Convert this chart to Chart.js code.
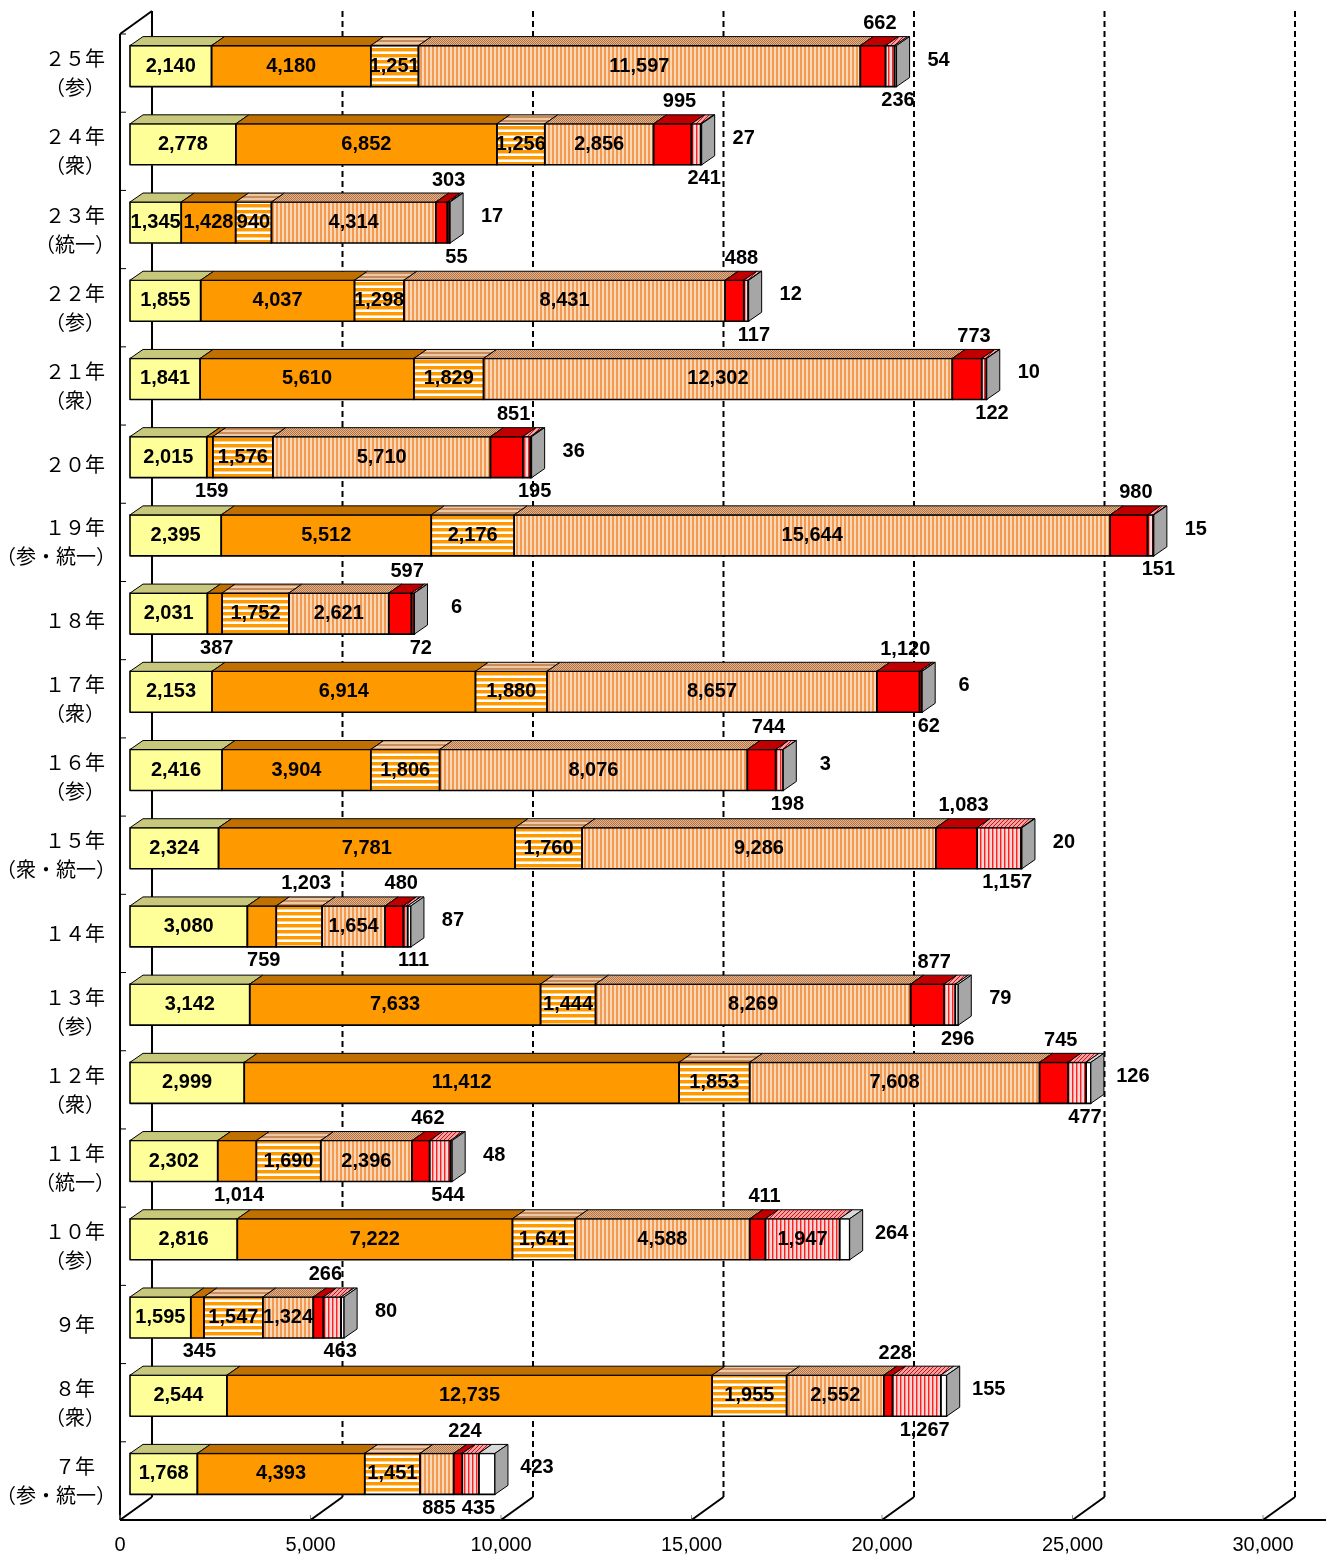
<!DOCTYPE html>
<html>
<head>
<meta charset="utf-8">
<script src="https://cdn.jsdelivr.net/npm/chart.js@4.4.1/dist/chart.umd.min.js"></script>
<style>
  body { margin: 0; background: #fff; }
  #wrap { width: 1335px; height: 1558px; }
</style>
</head>
<body>
<div id="wrap"><canvas id="chart"></canvas></div>
<script>
// rows, top to bottom
const categories = [
  ['２５年', '（参）'], ['２４年', '（衆）'], ['２３年', '（統一）'], ['２２年', '（参）'],
  ['２１年', '（衆）'], '２０年', ['１９年', '（参・統一）'], '１８年',
  ['１７年', '（衆）'], ['１６年', '（参）'], ['１５年', '（衆・統一）'], '１４年',
  ['１３年', '（参）'], ['１２年', '（衆）'], ['１１年', '（統一）'], ['１０年', '（参）'],
  '９年', ['８年', '（衆）'], ['７年', '（参・統一）']
];

const yellowValues = [2140, 2778, 1345, 1855, 1841, 2015, 2395, 2031, 2153, 2416, 2324, 3080, 3142, 2999, 2302, 2816, 1595, 2544, 1768];
const orangeValues = [4180, 6852, 1428, 4037, 5610, 159, 5512, 387, 6914, 3904, 7781, 759, 7633, 11412, 1014, 7222, 345, 12735, 4393];
const hStripeValues = [1251, 1256, 940, 1298, 1829, 1576, 2176, 1752, 1880, 1806, 1760, 1203, 1444, 1853, 1690, 1641, 1547, 1955, 1451];
const vStripeValues = [11597, 2856, 4314, 8431, 12302, 5710, 15644, 2621, 8657, 8076, 9286, 1654, 8269, 7608, 2396, 4588, 1324, 2552, 885];
const redValues = [662, 995, 303, 488, 773, 851, 980, 597, 1120, 744, 1083, 480, 877, 745, 462, 411, 266, 228, 224];
const pinkValues = [236, 241, 55, 117, 122, 195, 151, 72, 62, 198, 1157, 111, 296, 477, 544, 1947, 463, 1267, 435];
const whiteValues = [54, 27, 17, 12, 10, 36, 15, 6, 6, 3, 20, 87, 79, 126, 48, 264, 80, 155, 423];

const axisMax = 30000;
const axisStep = 5000;

const series = [yellowValues, orangeValues, hStripeValues, vStripeValues, redValues, pinkValues, whiteValues];

// 3d look
const DX = 13, DY = 9;          // bar depth
const WX = 32, WY = 23;         // wall depth
const FX = -10, FY = 7;         // front plane offset from bars

function pattern(w, h, draw) {
  const c = document.createElement('canvas');
  c.width = w;
  c.height = h;
  const g = c.getContext('2d');
  draw(g);
  return g.createPattern(c, 'repeat');
}

const frontFills = [
  '#FFFF99',
  '#FF9900',
  pattern(1, 6, g => {
    g.fillStyle = '#FFFFFF'; g.fillRect(0, 0, 1, 6);
    g.fillStyle = '#FF9900'; g.fillRect(0, 0, 1, 3);
    g.fillStyle = '#FFD190'; g.fillRect(0, 3, 1, 1);
  }),
  pattern(4, 1, g => {
    g.fillStyle = '#FDD8B6'; g.fillRect(0, 0, 4, 1);
    g.fillStyle = '#F29A52'; g.fillRect(0, 0, 2, 1);
  }),
  '#FF0000',
  pattern(4, 1, g => {
    g.fillStyle = '#FFD6D6'; g.fillRect(0, 0, 4, 1);
    g.fillStyle = '#FF2020'; g.fillRect(0, 0, 1, 1);
    g.fillStyle = '#FF8888'; g.fillRect(1, 0, 1, 1);
  }),
  '#FFFFFF'
];

const topFills = [
  '#C8C87C',
  '#C07000',
  pattern(1, 4, g => {
    g.fillStyle = '#EEC8A0'; g.fillRect(0, 0, 1, 4);
    g.fillStyle = '#C88C5C'; g.fillRect(0, 0, 1, 2);
  }),
  pattern(2, 2, g => {
    g.fillStyle = '#E2B48C'; g.fillRect(0, 0, 2, 2);
    g.fillStyle = '#B47448'; g.fillRect(0, 0, 1, 1); g.fillRect(1, 1, 1, 1);
  }),
  '#C00000',
  pattern(4, 4, g => {
    g.fillStyle = '#F4A0A0'; g.fillRect(0, 0, 4, 4);
    g.fillStyle = '#D01010';
    for (let i = 0; i < 4; i++) g.fillRect(i, 3 - i, 1, 1);
  }),
  '#D9D9D9'
];

function fmt(v) {
  return v.toLocaleString('en-US');
}

// where a value label goes
function labelPlace(seg, row) {
  const v = series[seg][row];
  if (seg === 6) return 'right';
  if (seg === 4) return 'top';
  if (seg === 5) return v > 1500 ? 'inside' : 'bottom';
  if (seg === 1) return v < 1100 ? 'bottom' : 'inside';
  if (seg === 2 && v < 1250 && orangeValues[row] < 1100) return 'top';
  if (seg === 3) return v < 1000 ? 'bottom' : 'inside';
  return 'inside';
}

function line(ctx, x1, y1, x2, y2) {
  ctx.beginPath();
  ctx.moveTo(x1, y1);
  ctx.lineTo(x2, y2);
  ctx.stroke();
}

function poly(ctx, pts, fill) {
  ctx.beginPath();
  ctx.moveTo(pts[0][0], pts[0][1]);
  for (let i = 1; i < pts.length; i++) ctx.lineTo(pts[i][0], pts[i][1]);
  ctx.closePath();
  ctx.fillStyle = fill;
  ctx.fill();
  ctx.stroke();
}

const wallPlugin = {
  id: 'wall',
  beforeDatasetsDraw(chart) {
    const { ctx, chartArea, scales: { x } } = chart;
    const top = chartArea.top + FY;
    const floor = chartArea.bottom + FY;
    const left = x.getPixelForValue(0) + FX;
    ctx.save();
    ctx.strokeStyle = '#000';
    ctx.lineWidth = 2;
    // left wall
    line(ctx, left, top, left, floor);
    line(ctx, left + WX, top - WY, left + WX, floor - WY);
    line(ctx, left, top, left + WX, top - WY);
    // floor front edge
    line(ctx, left, floor, chart.width - 9, floor);
    // category ticks on the wall
    const band = (chartArea.bottom - chartArea.top) / categories.length;
    ctx.lineWidth = 1;
    for (let k = 0; k <= categories.length; k++) {
      const y = chartArea.top + FY + k * band;
      line(ctx, left, y, left + 6, y);
    }
    // value grid: floor slant + dashed back line
    for (let v = 0; v <= axisMax; v += axisStep) {
      const fx = x.getPixelForValue(v) + FX;
      ctx.lineWidth = 1;
      ctx.strokeStyle = '#888';
      line(ctx, fx, floor, fx, floor - 5);
      ctx.strokeStyle = '#000';
      ctx.lineWidth = 2;
      line(ctx, fx, floor, fx + WX, floor - WY);
      if (v > 0) {
        ctx.setLineDash([6, 4]);
        line(ctx, fx + WX, floor - WY, fx + WX, top - WY);
        ctx.setLineDash([]);
      }
    }
    // category labels, centred in the label area but kept clear of the wall
    ctx.fillStyle = '#000';
    ctx.font = '20px "Noto Sans CJK JP", sans-serif';
    ctx.textAlign = 'center';
    ctx.textBaseline = 'middle';
    const y = chart.scales.y;
    categories.forEach((lab, j) => {
      const lines = Array.isArray(lab) ? lab : [lab];
      const cy = y.getPixelForTick(j) + FY;
      lines.forEach((txt, k) => {
        const w = ctx.measureText(txt).width;
        const cx = Math.min(75, 116 - w / 2);
        ctx.fillText(txt, cx, cy + (k - (lines.length - 1) / 2) * 29);
      });
    });
    ctx.restore();
  },
  afterDatasetsDraw(chart) {
    const { ctx } = chart;
    ctx.save();
    ctx.strokeStyle = '#000';
    ctx.lineJoin = 'round';
    series.forEach((values, i) => {
      const meta = chart.getDatasetMeta(i);
      meta.data.forEach((el, j) => {
        if (!values[j]) return;
        const p = el.getProps(['x', 'y', 'base', 'height'], true);
        const x0 = Math.min(p.base, p.x), x1 = Math.max(p.base, p.x);
        const t = p.y - p.height / 2, b = p.y + p.height / 2;
        ctx.lineWidth = 1.6;
        ctx.strokeRect(x0, t, x1 - x0, b - t);
        ctx.lineWidth = 1;
        poly(ctx, [[x0, t], [x1, t], [x1 + DX, t - DY], [x0 + DX, t - DY]], topFills[i]);
        if (i === series.length - 1) {
          poly(ctx, [[x1, t], [x1 + DX, t - DY], [x1 + DX, b - DY], [x1, b]], '#A6A6A6');
        }
      });
    });
    ctx.restore();
  },
  afterDraw(chart) {
    const { ctx } = chart;
    ctx.save();
    ctx.fillStyle = '#000';
    ctx.font = 'bold 20px "Liberation Sans", Arial, sans-serif';
    ctx.textAlign = 'center';
    ctx.textBaseline = 'middle';
    const lastMeta = chart.getDatasetMeta(series.length - 1);
    series.forEach((values, i) => {
      const meta = chart.getDatasetMeta(i);
      meta.data.forEach((el, j) => {
        const p = el.getProps(['x', 'y', 'base', 'height'], true);
        const cx = (p.base + p.x) / 2;
        const t = p.y - p.height / 2, b = p.y + p.height / 2;
        const text = fmt(values[j]);
        const place = labelPlace(i, j);
        if (place === 'inside') ctx.fillText(text, cx, p.y);
        else if (place === 'top') ctx.fillText(text, cx + 7, t - 22);
        else if (place === 'bottom') ctx.fillText(text, cx + (i === 5 ? 8 : 2), b + 14);
        else {
          const end = lastMeta.data[j].getProps(['x'], true).x;
          ctx.fillText(text, end + 42, p.y - 6);
        }
      });
    });
    ctx.restore();
  }
};

new Chart(document.getElementById('chart'), {
  type: 'bar',
  data: {
    labels: categories,
    datasets: series.map((values, i) => ({
      data: values,
      backgroundColor: frontFills[i],
      borderWidth: 0,
      barThickness: 41
    }))
  },
  options: {
    indexAxis: 'y',
    responsive: true,
    maintainAspectRatio: false,
    animation: false,
    devicePixelRatio: 1,
    layout: { padding: { top: 27, right: 62, left: 0, bottom: 0 } },
    plugins: {
      legend: { display: false },
      tooltip: { enabled: false }
    },
    scales: {
      x: {
        stacked: true,
        min: 0,
        max: axisMax,
        grid: { display: false, drawTicks: false },
        border: { display: false },
        ticks: {
          stepSize: axisStep,
          labelOffset: FX,
          padding: 20,
          color: '#000',
          font: { family: '"Liberation Sans", Arial, sans-serif', size: 20 },
          callback: v => fmt(v)
        },
        afterFit: scale => {
          scale.height = 45;
          scale.paddingLeft = 0;
          scale.paddingRight = 0;
        }
      },
      y: {
        stacked: true,
        grid: { display: false, drawTicks: false },
        border: { display: false },
        ticks: { display: false },
        afterFit: scale => {
          scale.width = 130;
          scale.paddingTop = 0;
          scale.paddingBottom = 0;
        }
      }
    }
  },
  plugins: [wallPlugin]
});
</script>
</body>
</html>
